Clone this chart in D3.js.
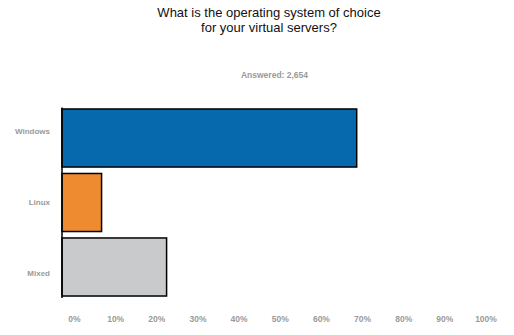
<!DOCTYPE html>
<meta charset="utf-8">
<head>
<title>virtual servers OS</title>
<script src="https://d3js.org/d3.v7.min.js"></script>
<style>
  body { margin: 0; background: #ffffff; }
  text { font-family: "Liberation Sans", Arial, sans-serif; }
  .lbl { font-size: 8px; font-weight: bold; fill: #9a9a9a; }
  .tick text { font-size: 8.5px; }
</style>
</head>
<body>
<svg id="chart" width="514" height="335"></svg>
<script>
// data
var categories = ["Windows", "Linux", "Mixed"];
var values = [68.7, 6.7, 22.5];
var barColors = ["#0769ad", "#ee8b30", "#c9cacb"];
var tickValues = [0, 10, 20, 30, 40, 50, 60, 70, 80, 90, 100];
var titleLines = ["What is the operating system of choice", "for your virtual servers?"];
var answered = "Answered: 2,654";

var svg = d3.select("#chart");

// x scale follows the tick labels, bars begin at the axis line a bit left of 0%
var x = d3.scaleLinear().domain([0, 100]).range([74, 485.5]);
var axisX = 62;

var y = d3.scaleBand()
    .domain(categories)
    .range([105.5, 299.5])
    .paddingInner(0.1)
    .paddingOuter(0.054);

// labels are spaced evenly a little differently from the bars
var yLabel = d3.scalePoint()
    .domain(categories)
    .range([130.7, 273.3]);

// title
svg.append("g").selectAll("text")
    .data(titleLines)
    .enter().append("text")
    .attr("x", 269)
    .attr("y", function(d, i) { return 17 + i * 15; })
    .attr("text-anchor", "middle")
    .style("font-size", "13px")
    .style("fill", "#111")
    .text(function(d) { return d; });

svg.append("text")
    .attr("class", "lbl")
    .attr("x", 274.5)
    .attr("y", 78)
    .attr("text-anchor", "middle")
    .style("font-size", "8.5px")
    .text(answered);

// bars
svg.append("g").selectAll("rect")
    .data(values)
    .enter().append("rect")
    .attr("x", axisX)
    .attr("y", function(d, i) { return y(categories[i]); })
    .attr("width", function(d) { return x(d) - axisX; })
    .attr("height", y.bandwidth())
    .attr("fill", function(d, i) { return barColors[i]; })
    .attr("stroke", "#000")
    .attr("stroke-width", 1.5);

// vertical axis line
svg.append("line")
    .attr("x1", axisX).attr("x2", axisX)
    .attr("y1", 107.5).attr("y2", 298)
    .attr("stroke", "#000")
    .attr("stroke-width", 1.5);

// category labels
svg.append("g").selectAll("text")
    .data(categories)
    .enter().append("text")
    .attr("class", "lbl")
    .attr("x", 50)
    .attr("y", function(d) { return yLabel(d); })
    .attr("dy", "0.35em")
    .attr("text-anchor", "end")
    .text(function(d) { return d; });

// bottom axis, labels only
var xAxis = d3.axisBottom(x)
    .tickValues(tickValues)
    .tickSize(0)
    .tickPadding(0)
    .tickFormat(function(d) { return d + "%"; });

var gx = svg.append("g")
    .attr("transform", "translate(0,315.5)")
    .call(xAxis);
gx.select(".domain").remove();
gx.selectAll("text")
    .attr("class", "lbl")
    .attr("font-family", null)
    .attr("font-size", null)
    .attr("fill", null);
</script>
</body>
